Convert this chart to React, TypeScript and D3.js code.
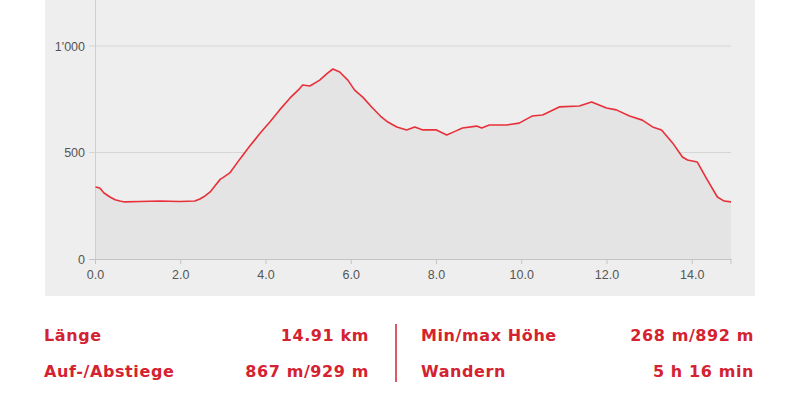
import React from "react";
import * as d3 from "d3";

const distKm = [0, 0.1, 0.2, 0.34, 0.46, 0.57, 0.69, 1.04, 1.51, 1.98, 2.33, 2.45, 2.57, 2.69, 2.8, 2.93, 2.99, 3.15, 3.39, 3.62, 3.86, 4.09, 4.32, 4.56, 4.79, 4.86, 5.03, 5.26, 5.43, 5.57, 5.73, 5.92, 6.08, 6.27, 6.5, 6.69, 6.86, 7.07, 7.3, 7.49, 7.68, 8.0, 8.24, 8.42, 8.61, 8.94, 9.06, 9.24, 9.64, 9.94, 10.24, 10.49, 10.88, 11.35, 11.64, 11.99, 12.22, 12.53, 12.83, 13.07, 13.28, 13.54, 13.77, 13.89, 14.12, 14.33, 14.59, 14.75, 14.91];
const elevM = [338, 333, 310, 291, 278, 272, 268, 270, 272, 270, 272, 282, 296, 315, 343, 375, 382, 404, 470, 530, 590, 643, 700, 755, 800, 817, 812, 840, 870, 892, 878, 840, 793, 760, 709, 670, 643, 620, 606, 620, 606, 606, 582, 598, 615, 624, 615, 629, 629, 638, 671, 676, 714, 718, 737, 709, 700, 671, 652, 620, 606, 545, 479, 465, 455, 380, 291, 272, 268];
const xTicks = [0, 2, 4, 6, 8, 10, 12, 14];
const yTicks = [0, 500, 1000];
const yTickLabels = ["0", "500", "1'000"];
const statLabelsLeft = ["Länge", "Auf-/Abstiege"];
const statValuesLeft = ["14.91 km", "867 m/929 m"];
const statLabelsRight = ["Min/max Höhe", "Wandern"];
const statValuesRight = ["268 m/892 m", "5 h 16 min"];

export default function App() {
  const x = d3.scaleLinear().domain([0, 14.91]).range([95.5, 731]);
  const y = d3.scaleLinear().domain([0, 1000]).range([259, 46]);
  const pts = distKm.map((d, i) => [d, elevM[i]] as [number, number]);
  const area = d3.area<[number, number]>().x(d => x(d[0])).y0(y(0)).y1(d => y(d[1]));
  const line = d3.line<[number, number]>().x(d => x(d[0])).y(d => y(d[1]));
  const red = "#d42231";
  const font = "'DejaVu Sans', Verdana, sans-serif";
  const axisFont = "'Liberation Sans', Arial, sans-serif";
  const ls = 0.6;
  return (
    <svg width={800} height={408} style={{ position: "absolute", left: 0, top: 0 }}>
      <rect x={0} y={0} width={800} height={408} fill="#fff" />
      <rect x={45} y={0} width={710} height={296} fill="#eeeeee" />
      {yTicks.slice(1).map(t => (
        <line key={t} x1={89} x2={731} y1={y(t)} y2={y(t)} stroke="#d6d6d6" strokeWidth={1} />
      ))}
      <path d={area(pts) || ""} fill="#e4e4e4" />
      <line x1={95.5} x2={95.5} y1={0} y2={259} stroke="#cfcfcf" strokeWidth={1} />
      <line x1={89} x2={731} y1={259.5} y2={259.5} stroke="#c4c4c4" strokeWidth={1} />
      {xTicks.map(t => (
        <line key={t} x1={x(t)} x2={x(t)} y1={259} y2={264} stroke="#c4c4c4" />
      ))}
      <line x1={x(14.91)} x2={x(14.91)} y1={259} y2={264} stroke="#c4c4c4" />
      <path d={line(pts) || ""} fill="none" stroke="#e8303a" strokeWidth={1.6} strokeLinejoin="round" />
      {xTicks.map(t => (
        <text key={t} x={x(t)} y={279} textAnchor="middle" fontFamily={axisFont} fontSize={12.5} fill="#555">
          {d3.format(".1f")(t)}
        </text>
      ))}
      {yTicks.map((t, i) => (
        <text key={t} x={85} y={y(t) + 4.5} textAnchor="end" fontFamily={axisFont} fontSize={12.5} fill="#555">
          {yTickLabels[i]}
        </text>
      ))}
      {statLabelsLeft.map((s, i) => (
        <text key={s} x={44} y={341 + i * 36} fontFamily={font} fontWeight="bold" fontSize={16} letterSpacing={ls} fill={red}>{s}</text>
      ))}
      {statValuesLeft.map((s, i) => (
        <text key={s} x={369} y={341 + i * 36} textAnchor="end" fontFamily={font} fontWeight="bold" fontSize={16} letterSpacing={ls} fill={red}>{s}</text>
      ))}
      <line x1={396} x2={396} y1={324} y2={382} stroke={red} strokeWidth={1.5} />
      {statLabelsRight.map((s, i) => (
        <text key={s} x={421} y={341 + i * 36} fontFamily={font} fontWeight="bold" fontSize={16} letterSpacing={ls} fill={red}>{s}</text>
      ))}
      {statValuesRight.map((s, i) => (
        <text key={s} x={754} y={341 + i * 36} textAnchor="end" fontFamily={font} fontWeight="bold" fontSize={16} letterSpacing={ls} fill={red}>{s}</text>
      ))}
    </svg>
  );
}
